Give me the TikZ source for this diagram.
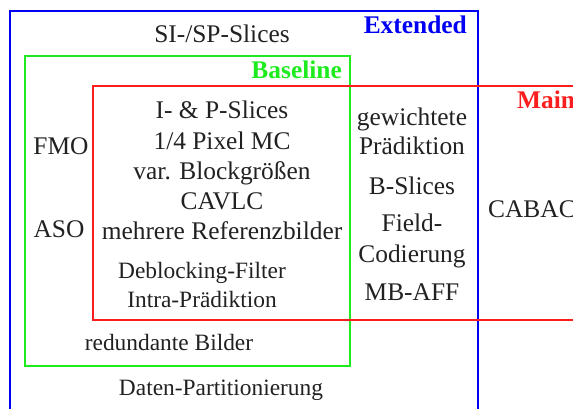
\documentclass[tikz,border=0pt]{standalone}
\usepackage{fontspec}
\setmainfont{Liberation Serif}
\colorlet{bluex}{blue!95!black}
\definecolor{grx}{RGB}{30,235,30}
\definecolor{redx}{RGB}{250,30,30}
\colorlet{txt}{black!87}

\tikzset{
    profile/.style={line width=2pt},
    feat/.style={inner sep=0pt,anchor=base,text=txt,
        font=\fontsize{25.4}{30}\selectfont},
    featsmall/.style={feat,font=\fontsize{23.4}{28}\selectfont},
    title/.style={inner sep=0pt,font=\fontsize{25.4}{30}\selectfont\bfseries}
}

\begin{document}
\begin{tikzpicture}[x=1pt,y=-1pt]
    \useasboundingbox (0,0) rectangle (573,408);
    \clip (0,0) rectangle (573,408);

    % the three profiles
    \draw[profile,bluex] (10,11) rectangle (478,430);
    \draw[profile,grx] (25,56) rectangle (350,366);
    \draw[profile,redx] (93,86) rectangle (600,320);

    \node[title,bluex,anchor=base east] (ext) at (467,33) {Extended};
    \node[title,grx,anchor=base east] (base) at (342,78) {Baseline};
    \node[title,redx,anchor=base west] (main) at (517,108) {Main};

    % extended only
    \node[feat] (sisp) at (222,42) {SI-/SP-Slices};
    \node[featsmall] (dp) at (221,395) {Daten-Partitionierung};

    % baseline + extended
    \node[feat] (fmo) at (61,154) {FMO};
    \node[feat] (aso) at (59,237) {ASO};
    \node[featsmall] (rb) at (169,350) {redundante Bilder};

    % common to all
    \node[feat] (ip) at (222,118) {I- \& P-Slices};
    \node[feat] (mc) at (222,149) {1/4 Pixel MC};
    \node[feat] (bg) at (222,179) {var. Blockgrößen};
    \node[feat] (cavlc) at (222,209) {CAVLC};
    \node[feat] (ref) at (222,239) {mehrere Referenzbilder};
    \node[featsmall] (dbf) at (202,278) {Deblocking-Filter};
    \node[featsmall] (intra) at (202,307) {Intra-Prädiktion};

    % main + extended
    \node[feat] (gw) at (412,125) {gewichtete};
    \node[feat] (gw2) at (412,154) {Prädiktion};
    \node[feat] (bs) at (412,194) {B-Slices};
    \node[feat] (fc) at (412,231) {Field-};
    \node[feat] (fc2) at (412,262) {Codierung};
    \node[feat] (mbaff) at (412,300) {MB-AFF};

    % main only
    \node[feat,anchor=base west] (cabac) at (488,217) {CABAC};
\end{tikzpicture}
\end{document}
